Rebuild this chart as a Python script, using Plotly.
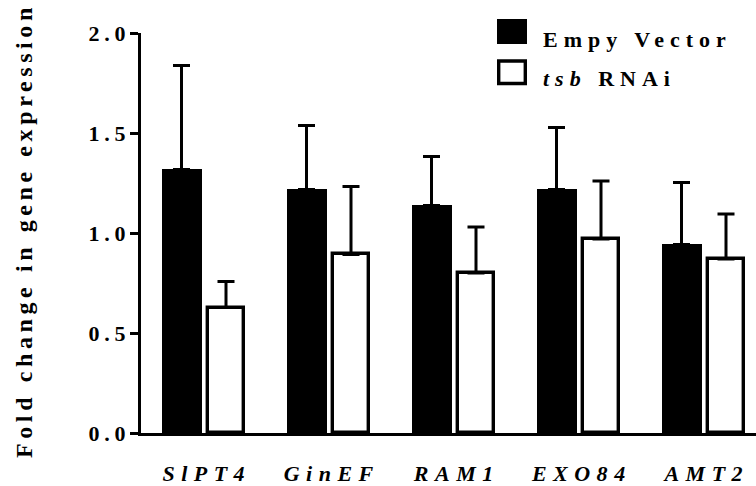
import plotly.graph_objects as go

# Gene expression data (mean fold change and upper error)
genes = ["SlPT4", "GinEF", "RAM1", "EXO84", "AMT2"]
empty_vector = [1.32, 1.22, 1.14, 1.22, 0.945]
empty_vector_err = [0.52, 0.32, 0.245, 0.31, 0.31]
tsb_rnai = [0.627, 0.893, 0.80, 0.97, 0.87]
tsb_rnai_err = [0.13, 0.34, 0.23, 0.29, 0.225]
y_ticks = [0.0, 0.5, 1.0, 1.5, 2.0]

FONT = "Liberation Serif"
W, H = 756, 486
ML, MR, MT, MB = 141, 0, 33, 53
PW, PH = W - ML - MR, H - MT - MB


def spaced(text, px, italic=False):
    """Bold text with extra tracking between characters (none after the last)."""
    body = f'<span style="letter-spacing:{px}px">{text[:-1]}</span>{text[-1]}'
    if italic:
        body = f"<i>{body}</i>"
    return f"<b>{body}</b>"


def px_x(px):
    return (px - ML) / PW


def px_y(py):
    return (H - MB - py) / PH


x_pos = list(range(len(genes)))

fig = go.Figure()
fig.add_trace(go.Bar(
    x=x_pos, y=empty_vector, name="Empy Vector",
    width=0.32, offset=-0.334,
    marker=dict(color="black", line=dict(width=0)),
    error_y=dict(type="data", array=empty_vector_err,
                 arrayminus=[0] * len(genes), symmetric=False,
                 color="black", thickness=3, width=8.5),
    showlegend=False,
))
fig.add_trace(go.Bar(
    x=x_pos, y=tsb_rnai, name="tsb RNAi",
    width=0.282, offset=0.039,
    marker=dict(color="white", line=dict(color="black", width=3.4)),
    error_y=dict(type="data", array=tsb_rnai_err,
                 arrayminus=[0] * len(genes), symmetric=False,
                 color="black", thickness=3, width=8.5),
    showlegend=False,
))

# Legend drawn as boxes with labels
fig.add_shape(type="rect", xref="paper", yref="paper",
              x0=px_x(497), x1=px_x(527), y0=px_y(44), y1=px_y(19),
              fillcolor="black", line=dict(width=0))
fig.add_shape(type="rect", xref="paper", yref="paper",
              x0=px_x(498.7), x1=px_x(525.3), y0=px_y(83.5), y1=px_y(61),
              fillcolor="white", line=dict(color="black", width=3.4))
fig.add_annotation(xref="paper", yref="paper", x=px_x(541), y=px_y(39),
                   xanchor="left", yanchor="middle", showarrow=False,
                   text=spaced("Empy Vector", 6),
                   font=dict(family=FONT, size=22, color="black"))
fig.add_annotation(xref="paper", yref="paper", x=px_x(541), y=px_y(78),
                   xanchor="left", yanchor="middle", showarrow=False,
                   text=('<b><i><span style="letter-spacing:6px">tsb</span></i>'
                         '<span style="letter-spacing:6px"> RNA</span>i</b>'),
                   font=dict(family=FONT, size=22, color="black"))

# Y axis title
fig.add_annotation(xref="paper", yref="paper", x=px_x(24), y=0.5,
                   xanchor="center", yanchor="middle", showarrow=False,
                   textangle=-90,
                   text=spaced("Fold change in gene expression", 4.6),
                   font=dict(family=FONT, size=24, color="black"))

fig.update_layout(
    width=W, height=H,
    margin=dict(l=ML, r=MR, t=MT, b=MB, pad=0, autoexpand=False),
    plot_bgcolor="white", paper_bgcolor="white",
    font=dict(family=FONT, color="black"),
    bargap=0,
)
fig.update_xaxes(
    range=[-0.5, -0.5 + PW / 125],
    tickvals=x_pos,
    ticktext=[spaced(g, 6.5, italic=True) for g in genes],
    tickfont=dict(family=FONT, size=22, color="black"),
    ticks="", showline=True, linecolor="black", linewidth=3,
    showgrid=False, zeroline=False, ticklabelstandoff=19,
    automargin=False,
)
fig.update_yaxes(
    range=[0, 2.0],
    tickvals=y_ticks,
    ticktext=[spaced(f"{v:.1f}", 4.8) for v in y_ticks],
    tickfont=dict(family=FONT, size=22, color="black"),
    ticks="outside", ticklen=8, tickwidth=3, tickcolor="black",
    showline=True, linecolor="black", linewidth=3,
    showgrid=False, zeroline=False, automargin=False,
)

fig.write_html("out.html")
